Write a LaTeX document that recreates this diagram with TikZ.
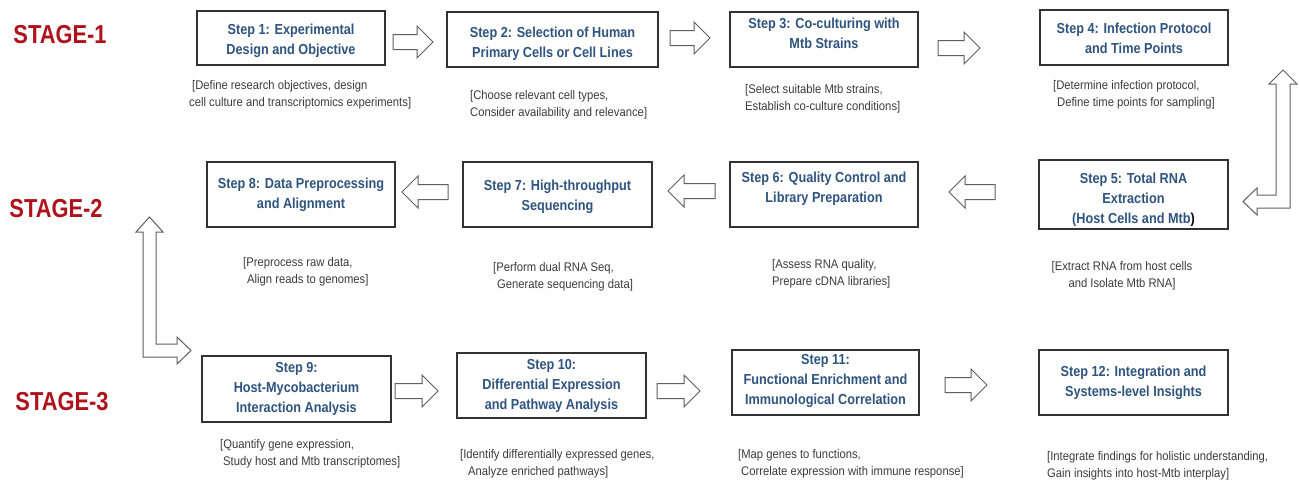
\documentclass[tikz,border=0pt]{standalone}
\usepackage{fontspec}
\newfontfamily\titlefont[FakeStretch=0.875]{Liberation Sans}
\newfontfamily\descfont[FakeStretch=0.9]{Liberation Sans}
\newfontfamily\stagefont[FakeStretch=0.84]{Liberation Sans}
\definecolor{titleblue}{RGB}{47,84,128}
\definecolor{stagered}{RGB}{176,18,28}
\definecolor{descgray}{RGB}{60,60,60}
\definecolor{boxline}{RGB}{50,50,50}
\definecolor{arrowline}{RGB}{95,95,95}
\newcommand\rarr[3]{\draw[blockarrow] (#1,#3-7.5) -- (#2-16,#3-7.5) -- (#2-16,#3-16) -- (#2,#3) -- (#2-16,#3+16) -- (#2-16,#3+7.5) -- (#1,#3+7.5) -- cycle;}
\newcommand\larr[3]{\draw[blockarrow] (#2,#3-7.5) -- (#1+16,#3-7.5) -- (#1+16,#3-16) -- (#1,#3) -- (#1+16,#3+16) -- (#1+16,#3+7.5) -- (#2,#3+7.5) -- cycle;}
% move text up (#1 = 2 x shift) or down inside a fixed-size box
\newcommand\upby[2]{\raisebox{0pt}[\height][\dimexpr\depth+#1\relax]{\begin{tabular}{@{}c@{}}#2\end{tabular}}}
\newcommand\downby[2]{\raisebox{0pt}[\dimexpr\height+#1\relax][\depth]{\begin{tabular}{@{}c@{}}#2\end{tabular}}}
\tikzset{
 stepbox/.style={draw=boxline, line width=1.3pt, fill=white, inner sep=0pt, align=center, text=titleblue, font=\titlefont\bfseries\fontsize{14.5}{20}\selectfont},
 desc/.style={anchor=north west, inner sep=0pt, align=left, text=descgray, font=\descfont\fontsize{12.5}{17}\selectfont},
 stage/.style={text=stagered, font=\stagefont\bfseries\fontsize{26}{30}\selectfont, inner sep=0pt},
 blockarrow/.style={draw=arrowline, line width=1pt, fill=white, line join=miter},
}
\begin{document}
\begin{tikzpicture}[x=1pt,y=-1pt]
\fill[white] (0,0) rectangle (1299,483);
\useasboundingbox (0,0) rectangle (1299,483);

% stage labels
\node[stage] (st1) at (60,35) {STAGE-1};
\node[stage] (st2) at (56,209) {STAGE-2};
\node[stage] (st3) at (62,402) {STAGE-3};

% row 1
\node[stepbox, minimum width=188pt, minimum height=54pt] (s1) at (291,38) {\downby{4pt}{Step 1: Experimental\\Design and Objective}};
\node[stepbox, minimum width=211pt, minimum height=55pt] (s2) at (552.5,39.5) {\downby{8pt}{Step 2: Selection of Human\\Primary Cells or Cell Lines}};
\node[stepbox, minimum width=188pt, minimum height=55pt] (s3) at (824,39.5) {\upby{11pt}{Step 3: Co-culturing with\\Mtb Strains}};
\node[stepbox, minimum width=188pt, minimum height=55pt] (s4) at (1134,37.5) {\downby{4pt}{Step 4: Infection Protocol\\and Time Points}};

% row 2
\node[stepbox, minimum width=188pt, minimum height=65pt] (s8) at (301,194.5) {Step 8: Data Preprocessing\\and Alignment};
\node[stepbox, minimum width=189pt, minimum height=65pt] (s7) at (557.5,194.5) {\downby{3pt}{Step 7: High-throughput\\Sequencing}};
\node[stepbox, minimum width=188pt, minimum height=65pt] (s6) at (824,194.5) {\upby{12pt}{Step 6: Quality Control and\\Library Preparation}};
\node[stepbox, minimum width=189pt, minimum height=65pt] (s5) at (1133.5,194.5) {\downby{9pt}{Step 5: Total RNA\\Extraction\\(Host Cells and Mtb{\color{black})}}};

% row 3
\node[stepbox, minimum width=189pt, minimum height=66pt] (s9) at (296.5,389) {Step 9:\\Host-Mycobacterium\\Interaction Analysis};
\node[stepbox, minimum width=189pt, minimum height=65pt] (s10) at (551.5,385.5) {Step 10:\\Differential Expression\\and Pathway Analysis};
\node[stepbox, minimum width=187pt, minimum height=65pt] (s11) at (825.5,382.5) {\upby{4pt}{Step 11:\\Functional Enrichment and\\Immunological Correlation}};
\node[stepbox, minimum width=189pt, minimum height=65pt] (s12) at (1133.5,382.5) {Step 12: Integration and\\Systems-level Insights};

% descriptions
\node[desc] (d1) at (189,80) {\hspace*{3pt}[Define research objectives, design\\cell culture and transcriptomics experiments]};
\node[desc] (d2) at (470,90) {[Choose relevant cell types,\\Consider availability and relevance]};
\node[desc] (d3) at (745,84) {[Select suitable Mtb strains,\\Establish co-culture conditions]};
\node[desc] (d4) at (1053,80) {[Determine infection protocol,\\\hspace*{4pt}Define time points for sampling]};
\node[desc] (d8) at (243,257) {[Preprocess raw data,\\\hspace*{4pt}Align reads to genomes]};
\node[desc] (d7) at (493,262) {[Perform dual RNA Seq,\\\hspace*{4pt}Generate sequencing data]};
\node[desc] (d6) at (772,259) {[Assess RNA quality,\\Prepare cDNA libraries]};
\node[desc, anchor=north, align=center] (d5) at (1122,261) {[Extract RNA from host cells\\and Isolate Mtb RNA]};
\node[desc] (d9) at (220,439) {[Quantify gene expression,\\\hspace*{3pt}Study host and Mtb transcriptomes]};
\node[desc] (d10) at (460,449) {[Identify differentially expressed genes,\\\hspace*{8pt}Analyze enriched pathways]};
\node[desc] (d11) at (738,449) {[Map genes to functions,\\\hspace*{3pt}Correlate expression with immune response]};
\node[desc] (d12) at (1047,451) {[Integrate findings for holistic understanding,\\Gain insights into host-Mtb interplay]};

% horizontal block arrows
\rarr{393}{433}{42}
\rarr{670}{710}{38}
\rarr{938}{980}{48}
\larr{949}{995}{192}
\larr{668}{715}{191}
\larr{402}{448}{192}
\rarr{395}{438}{391}
\rarr{657}{700}{391}
\rarr{945}{987}{385}

% elbow double arrows
\coordinate (rt) at (1283,70);
\coordinate (rl) at (1243,201.5);
\draw[blockarrow] (rt) -- (1297,84) -- (1290,84) -- (1290,208) -- (1257,208) -- (1257,215) -- (rl)
  -- (1257,188) -- (1257,195) -- (1276,195) -- (1276,84) -- (1269,84) -- cycle;
\coordinate (lt) at (149.5,217);
\coordinate (lr) at (191,350.5);
\draw[blockarrow] (lt) -- (163,232) -- (156,232) -- (156,344) -- (177,344) -- (177,337) -- (lr)
  -- (177,364) -- (177,357) -- (143,357) -- (143,232) -- (136,232) -- cycle;
\end{tikzpicture}
\end{document}
